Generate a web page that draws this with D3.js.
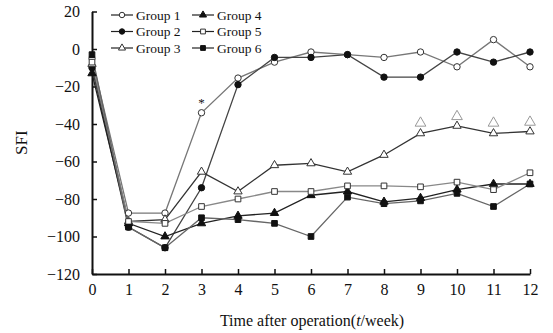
<!DOCTYPE html>
<html>
<head>
<meta charset="utf-8">
<script src="https://cdn.jsdelivr.net/npm/d3@7"></script>
<style>
  body { margin: 0; background: #fff; }
  text { font-family: "Liberation Serif", "Times New Roman", serif; fill: #111; }
</style>
</head>
<body>
<svg id="chart" width="553" height="333"></svg>
<script>
// data
const weeks = [0, 1, 2, 3, 4, 5, 6, 7, 8, 9, 10, 11, 12];
const group1 = [-5, -87.5, -87.5, -34, -15.5, -7, -1.6, -3, -4.5, -1.6, -9.5, 5, -9.5];
const group2 = [-10, -95, -106, -74, -19, -4.5, -4.5, -3, -15, -15, -1.6, -7, -1.6];
const group3 = [-8, -92, -91, -65.5, -76, -62, -61, -65.5, -56.5, -45, -41, -45, -44];
const group4 = [-13, -93, -100, -93, -89, -87.5, -78, -76, -81.5, -79.5, -75, -72, -72];
const group5 = [-7, -92, -93, -84, -80, -76, -76, -73, -73, -73.5, -71, -75, -66];
const group6 = [-3, -95, -106, -90, -91, -93, -100, -79, -82.5, -81, -77, -84, -72];
const group3Extra = { weeks: [9, 10, 11, 12], values: [-39.5, -36, -39.5, -39] };
const yTicks = [20, 0, -20, -40, -60, -80, -100, -120];

const series = [
  { name: "Group 1", values: group1, shape: "circle", fill: "#fff", color: "#777" },
  { name: "Group 2", values: group2, shape: "circle", fill: "#111", color: "#444" },
  { name: "Group 3", values: group3, shape: "triangle", fill: "#fff", color: "#333" },
  { name: "Group 4", values: group4, shape: "triangle", fill: "#111", color: "#222" },
  { name: "Group 5", values: group5, shape: "square", fill: "#fff", color: "#888" },
  { name: "Group 6", values: group6, shape: "square", fill: "#111", color: "#666" }
];

const svg = d3.select("#chart");

const x = d3.scaleLinear().domain([0, 12]).range([92, 530]);
const y = d3.scaleLinear().domain([-120, 20]).range([274, 11.5]);

// axes
const xAxis = d3.axisBottom(x).tickValues(weeks).tickSize(-5).tickPadding(10).tickSizeOuter(0);
const gx = svg.append("g").attr("transform", `translate(0,${y(-120)})`).call(xAxis);
gx.select(".domain").attr("stroke", "#111").attr("stroke-width", 2);
gx.selectAll(".tick line").attr("stroke", "#111").attr("stroke-width", 1.5);
gx.selectAll(".tick text").style("font-size", "16px").attr("font-family", null);

const yAxis = d3.axisLeft(y).tickValues(yTicks).tickSize(-5).tickPadding(12).tickSizeOuter(0);
const gy = svg.append("g").attr("transform", `translate(${x(0)},0)`).call(yAxis);
gy.select(".domain").attr("stroke", "#111").attr("stroke-width", 2);
gy.selectAll(".tick line").attr("stroke", "#111").attr("stroke-width", 1.5);
gy.selectAll(".tick text").style("font-size", "16px").attr("font-family", null);

// axis titles
svg.append("text")
  .attr("transform", `translate(27,${y(-50)}) rotate(-90)`)
  .attr("text-anchor", "middle")
  .style("font-size", "17px")
  .text("SFI");

const xt = svg.append("text")
  .attr("x", 312).attr("y", 326)
  .attr("text-anchor", "middle")
  .style("font-size", "16px");
xt.append("tspan").text("Time after operation(");
xt.append("tspan").style("font-style", "italic").text("t");
xt.append("tspan").text("/week)");

// marker helper
function marker(sel, shape, fill, stroke, k = 1) {
  if (shape === "circle") {
    sel.append("circle").attr("r", 3.2 * k).attr("fill", fill).attr("stroke", stroke).attr("stroke-width", 1);
  } else {
    const type = shape === "square" ? d3.symbolSquare : d3.symbolTriangle;
    const size = (shape === "square" ? 32 : 30) * k * k;
    sel.append("path").attr("d", d3.symbol().type(type).size(size)())
      .attr("fill", fill).attr("stroke", stroke).attr("stroke-width", 1);
  }
}

const line = d3.line().x((d, i) => x(weeks[i])).y((d) => y(d));

series.forEach((s) => {
  svg.append("path")
    .datum(s.values)
    .attr("d", line)
    .attr("fill", "none")
    .attr("stroke", s.color)
    .attr("stroke-width", 1.3);
});

series.forEach((s) => {
  s.values.forEach((v, i) => {
    const g = svg.append("g").attr("transform", `translate(${x(weeks[i])},${y(v)})`);
    marker(g, s.shape, s.fill, s.fill === "#fff" ? "#333" : "#111");
  });
});

// extra grey triangles for group 3
group3Extra.values.forEach((v, i) => {
  const g = svg.append("g").attr("transform", `translate(${x(group3Extra.weeks[i])},${y(v)})`);
  g.append("path").attr("d", d3.symbol().type(d3.symbolTriangle).size(50)())
    .attr("fill", "#fff").attr("stroke", "#999").attr("stroke-width", 1);
});

// significance star
svg.append("text")
  .attr("x", x(3)).attr("y", y(group1[3]) - 6)
  .attr("text-anchor", "middle")
  .style("font-size", "13px")
  .text("*");

// legend
const legend = svg.append("g").attr("transform", "translate(111,15)");
series.forEach((s, i) => {
  const col = Math.floor(i / 3), row = i % 3;
  const g = legend.append("g").attr("transform", `translate(${col * 81},${row * 16.5})`);
  g.append("line").attr("x1", 0).attr("x2", 22).attr("stroke", "#222").attr("stroke-width", 1.2);
  const m = g.append("g").attr("transform", "translate(11,0)");
  marker(m, s.shape, s.fill, s.fill === "#fff" ? "#333" : "#111", 0.85);
  g.append("text").attr("x", 25).attr("y", 4.5).style("font-size", "13.5px").text(s.name);
});
</script>
</body>
</html>
